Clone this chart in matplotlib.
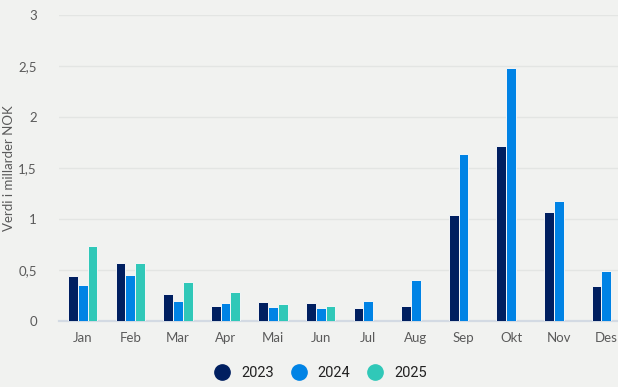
import matplotlib
matplotlib.use("Agg")
import matplotlib.pyplot as plt
import numpy as np
from matplotlib.lines import Line2D

months = ["Jan", "Feb", "Mar", "Apr", "Mai", "Jun", "Jul", "Aug", "Sep", "Okt", "Nov", "Des"]
v2023 = [0.44, 0.565, 0.265, 0.147, 0.19, 0.176, 0.124, 0.147, 1.04, 1.72, 1.066, 0.343]
v2024 = [0.35, 0.45, 0.20, 0.176, 0.134, 0.124, 0.20, 0.405, 1.634, 2.477, 1.18, 0.493]
v2025 = [0.74, 0.565, 0.38, 0.284, 0.167, 0.147]
series_names = ["2023", "2024", "2025"]
colors = ["#001F60", "#0083E5", "#30C8B8"]
yticks = [0, 0.5, 1, 1.5, 2, 2.5, 3]
ytick_labels = ["0", "0,5", "1", "1,5", "2", "2,5", "3"]

bg = "#F1F2F0"
W, H = 618, 387
fig = plt.figure(figsize=(W / 100, H / 100), dpi=100, facecolor=bg)
ax = fig.add_axes([59 / W, 66 / H, 571 / W, 306 / H], facecolor=bg)

x = np.arange(len(months))
bw = 0.205
offsets = [-bw, 0, bw]
for vals, off, c in zip([v2023, v2024, v2025], offsets, colors):
    xi = x[:len(vals)] + off
    ax.bar(xi, vals, width=bw, color=c, edgecolor="#F4F6F8", linewidth=0.7, zorder=3)

ax.set_xlim(-0.5, len(months) - 0.5)
ax.set_ylim(0, 3)
ax.set_yticks(yticks)
ax.set_yticklabels(ytick_labels)
ax.set_xticks(x)
ax.set_xticklabels(months)
ax.grid(axis="y", color="#E3E5E3", linewidth=1.0, zorder=0)
ax.set_axisbelow(True)
for s in ["top", "right", "left"]:
    ax.spines[s].set_visible(False)
ax.spines["bottom"].set_color("#D3DAE3")
ax.spines["bottom"].set_linewidth(1.6)
ax.tick_params(axis="both", length=0, labelsize=9.5, labelcolor="#5A5A5A")
ax.tick_params(axis="x", pad=8)
ax.tick_params(axis="y", pad=16)
for lab in ax.get_xticklabels() + ax.get_yticklabels():
    lab.set_family("Lato")
ax.set_ylabel("Verdi i millarder NOK", fontsize=9.5, color="#5A5A5A", family="Lato")
ax.yaxis.set_label_coords((15 - 59) / 571, 0.5)

handles = [Line2D([0], [0], marker="o", linestyle="", markersize=11, markerfacecolor=c,
                  markeredgecolor=c) for c in colors]
leg = fig.legend(handles, series_names, loc="center", bbox_to_anchor=(317 / W, 1 - 373 / H),
                 ncol=3, frameon=False, handletextpad=0.3, columnspacing=0.7,
                 prop={"family": "Roboto", "size": 10.5})
for t in leg.get_texts():
    t.set_color("#222222")

fig.savefig("out.png", dpi=100, facecolor=bg)
